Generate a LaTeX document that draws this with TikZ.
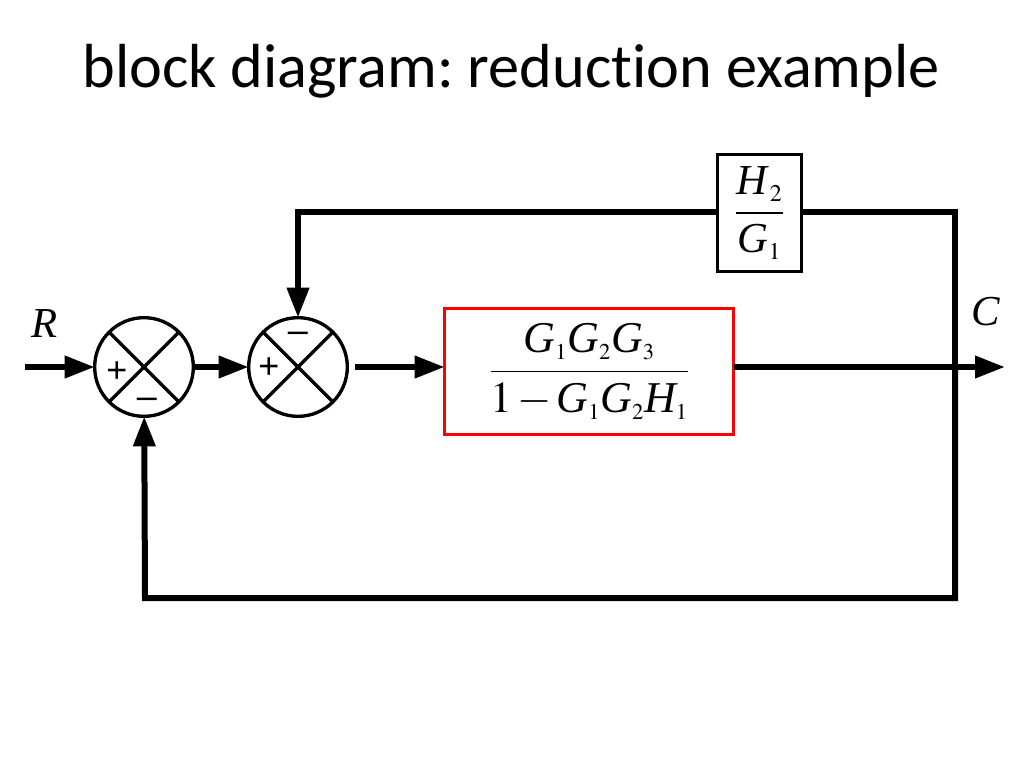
\documentclass[tikz,border=0pt]{standalone}
\usepackage{mathptmx}
\usepackage{fontspec}
\setmainfont{Liberation Serif}
\newfontfamily\titlefont{Carlito}[Ligatures=NoCommon]
\newfontfamily\signfont{Liberation Sans}
\usetikzlibrary{
  arrows.meta,
  positioning,  % right=of ...
  calc
}
\DeclareMathSizes{33}{33}{17}{13}
\DeclareMathSizes{32}{32}{18}{14}
\newcommand\gsym[2]{\textit{#1}_{#2}}
\tikzset{
  >={Triangle[length=22.5pt,width=16pt]},
  signal/.style={line width=4.5pt},
  sum/.style={
    circle,
    draw,
    line width=2.5pt,
    minimum size=74pt,
    inner sep=0pt,
    outer sep=0pt
  },
  block/.style={
    rectangle,
    draw,
    line width=2.3pt,
    inner sep=0pt,
    outer sep=0pt
  },
  sign/.style={font={\signfont\fontsize{27}{27}\selectfont},inner sep=0pt},
  var/.style={font={\itshape\fontsize{32}{32}\selectfont},inner sep=0pt}
}

\begin{document}
\begin{tikzpicture}[x=0.75pt,y=-0.75pt]
\useasboundingbox (0,0) rectangle (1024,768);
\node[font=\titlefont\fontsize{46.7}{46.7}\selectfont\frenchspacing,anchor=base] (title) at (511,87) {block diagram: reduction example};
% summing points
\node[sum] (sum1) at (144,367) {};
\node[sum] (sum2) [right=41.5pt of sum1] {};
\foreach \s in {sum1,sum2} {
  \draw[line width=2.5pt] (\s.north west) -- (\s.south east)
                          (\s.north east) -- (\s.south west);
}
\node[sign] (p1) at ([shift={(-27,5)}]sum1.center) {+};
\node[sign] (m1) at ([shift={(3,36)}]sum1.center) {–};
\node[sign] (p2) at ([shift={(-29,1)}]sum2.center) {+};
\node[sign] (m2) at ([shift={(0,-30)}]sum2.center) {–};
% blocks
\node[block,draw=red,minimum width=216.75pt,minimum height=94.5pt,
      font=\fontsize{33}{40}\selectfont] (fwd) [right=73pt of sum2,yshift=-3.4pt]
      {$\displaystyle\frac{\gsym{G}{1}\gsym{G}{2}\gsym{G}{3}}
                          {1\mkern2mu{-}\mkern2mu\gsym{G}{1}\gsym{G}{2}\gsym{H}{1}}$};
\node[block,minimum width=63pt,minimum height=87.75pt,
      font=\fontsize{32}{38}\selectfont] (fb) at (759.5,213)
      {$\displaystyle\frac{\gsym{H}{\,2}}{\gsym{G}{1}}$};
% labels
\node[var] (R) at (45,324) {R};
\node[var] (C) at (986,312) {C};
% free ends
\coordinate (in) at (25,367);
\coordinate (out) at (1005,367);
\coordinate (tap) at (955,367);
\coordinate (low) at (145,598);
% signals
\draw[signal,->] (in) -- (sum1);
\draw[signal,->] (sum1) -- (sum2);
\draw[signal,->,shorten <=6pt] (sum2) -- (sum2 -| fwd.west);
\draw[signal,->] (fwd.east |- sum2) -- (out);
\draw[signal] (fb.east |- 0,212) -| (tap);
\draw[signal,->] (fb.west |- 0,212) -| (sum2);
\draw[signal,->] (tap) -- (tap |- low) -- (low) -- (sum1);
\end{tikzpicture}
\end{document}
